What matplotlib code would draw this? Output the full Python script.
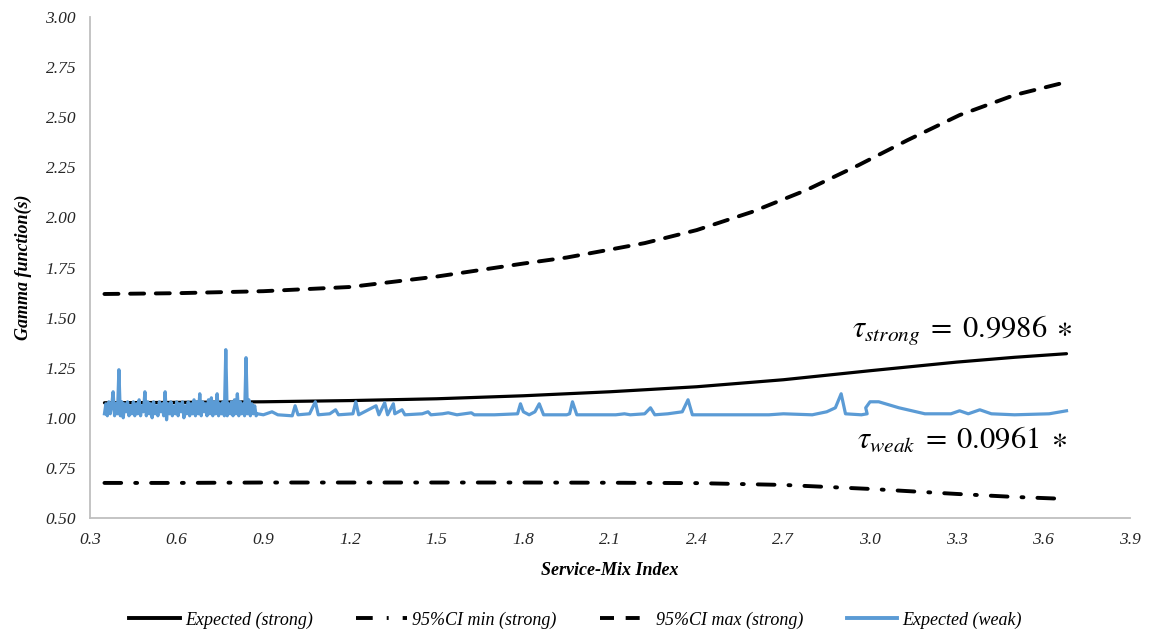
import matplotlib

matplotlib.use("Agg")

import matplotlib.pyplot as plt  # noqa: E402
from matplotlib.lines import Line2D  # noqa: E402

plt.rcParams["font.family"] = ["Liberation Serif", "DejaVu Serif"]
plt.rcParams["mathtext.fontset"] = "stix"

# Expected gamma and 95% CI band for the strong specification
strong_x = [0.35, 0.6, 0.9, 1.2, 1.5, 1.8, 2.1, 2.4, 2.7, 3.0, 3.3, 3.5, 3.68]
strong_exp = [1.075, 1.077, 1.080, 1.086, 1.095, 1.110, 1.130, 1.155, 1.190, 1.235, 1.278, 1.302, 1.320]
strong_ci_min = [0.675, 0.675, 0.677, 0.677, 0.677, 0.677, 0.676, 0.674, 0.665, 0.645, 0.620, 0.605, 0.595]

ci_max_x = [0.35, 0.6, 0.9, 1.2, 1.5, 1.8, 1.95, 2.09, 2.22, 2.40, 2.59, 2.78, 2.96, 3.13, 3.31, 3.50, 3.68]
strong_ci_max = [1.618, 1.622, 1.632, 1.653, 1.705, 1.770, 1.800, 1.837, 1.872, 1.937, 2.027, 2.137,
                 2.261, 2.386, 2.511, 2.611, 2.676]

# Expected gamma for the weak specification
weak_x = [
    0.350, 0.355, 0.360, 0.365, 0.370, 0.375, 0.380, 0.385, 0.390, 0.395,
    0.400, 0.405, 0.410, 0.415, 0.420, 0.425, 0.430, 0.435, 0.440, 0.445,
    0.450, 0.455, 0.460, 0.465, 0.470, 0.475, 0.480, 0.485, 0.490, 0.495,
    0.500, 0.505, 0.510, 0.515, 0.520, 0.525, 0.530, 0.535, 0.540, 0.545,
    0.550, 0.555, 0.560, 0.565, 0.570, 0.575, 0.580, 0.585, 0.590, 0.595,
    0.600, 0.605, 0.610, 0.615, 0.620, 0.625, 0.630, 0.635, 0.640, 0.645,
    0.650, 0.655, 0.660, 0.665, 0.670, 0.675, 0.680, 0.685, 0.690, 0.695,
    0.700, 0.705, 0.710, 0.715, 0.720, 0.725, 0.730, 0.735, 0.740, 0.745,
    0.750, 0.755, 0.760, 0.765, 0.770, 0.775, 0.780, 0.785, 0.790, 0.795,
    0.800, 0.805, 0.810, 0.815, 0.820, 0.825, 0.830, 0.835, 0.840, 0.845,
    0.850, 0.855, 0.860, 0.865, 0.870, 0.875, 0.880,
    0.90, 0.93, 0.95, 1.00, 1.01, 1.02, 1.06, 1.08, 1.09, 1.13,
    1.15, 1.16, 1.21, 1.22, 1.23, 1.29, 1.30, 1.32, 1.33, 1.35, 1.355, 1.38,
    1.39, 1.45, 1.47, 1.48, 1.52, 1.54, 1.57, 1.62, 1.63, 1.70, 1.78, 1.79,
    1.80, 1.82, 1.84, 1.855, 1.87, 1.95, 1.96, 1.97, 1.985, 2.05, 2.12, 2.15,
    2.17, 2.22, 2.24, 2.255, 2.30, 2.35, 2.37, 2.385, 2.50, 2.65, 2.70, 2.80,
    2.85, 2.88, 2.90, 2.915, 2.97, 2.99, 2.985, 3.00, 3.03, 3.10, 3.19, 3.28, 3.31,
    3.34, 3.38, 3.42, 3.50, 3.62, 3.68,
]
weak_exp = [
    1.02, 1.07, 1.01, 1.08, 1.02, 1.06, 1.13, 1.01, 1.07, 1.02,
    1.24, 1.01, 1.08, 1.00, 1.07, 1.03, 1.08, 1.01, 1.06, 1.02,
    1.08, 1.01, 1.07, 1.02, 1.09, 1.01, 1.06, 1.03, 1.13, 1.01,
    1.08, 1.02, 1.07, 1.00, 1.08, 1.02, 1.06, 1.01, 1.08, 1.03,
    1.07, 1.01, 1.13, 0.99, 1.07, 1.02, 1.08, 1.01, 1.06, 1.02,
    1.08, 1.01, 1.07, 1.03, 1.08, 1.00, 1.06, 1.02, 1.08, 1.01,
    1.07, 1.02, 1.09, 1.01, 1.08, 1.02, 1.12, 1.01, 1.08, 1.03,
    1.07, 1.01, 1.09, 1.02, 1.10, 1.01, 1.08, 1.02, 1.12, 1.01,
    1.07, 1.02, 1.08, 1.01, 1.34, 1.01, 1.07, 1.02, 1.08, 1.01,
    1.09, 1.02, 1.12, 1.01, 1.08, 1.02, 1.07, 1.01, 1.30, 1.02,
    1.09, 1.01, 1.07, 1.02, 1.06, 1.01, 1.02,
    1.015, 1.03, 1.015, 1.01, 1.06, 1.015, 1.02, 1.08, 1.015, 1.02,
    1.04, 1.015, 1.02, 1.08, 1.015, 1.06, 1.015, 1.075, 1.015, 1.07, 1.02, 1.04,
    1.015, 1.02, 1.03, 1.015, 1.02, 1.025, 1.015, 1.025, 1.015, 1.015, 1.02, 1.07,
    1.03, 1.015, 1.03, 1.07, 1.015, 1.015, 1.02, 1.08, 1.015, 1.015, 1.015, 1.02,
    1.015, 1.02, 1.05, 1.015, 1.02, 1.03, 1.09, 1.015, 1.015, 1.015, 1.02, 1.015,
    1.03, 1.05, 1.12, 1.02, 1.015, 1.02, 1.05, 1.08, 1.08, 1.05, 1.02, 1.02, 1.035,
    1.02, 1.04, 1.02, 1.015, 1.02, 1.035,
]

x_ticks = [0.3, 0.6, 0.9, 1.2, 1.5, 1.8, 2.1, 2.4, 2.7, 3.0, 3.3, 3.6, 3.9]
y_ticks = [0.50, 0.75, 1.00, 1.25, 1.50, 1.75, 2.00, 2.25, 2.50, 2.75, 3.00]

tau_strong = 0.9986
tau_weak = 0.0961

BLUE = "#5B9BD5"
DASH = (3.6, 3.0)
DASH_DOT = (4.3, 3.6, 0.5, 3.6)

fig = plt.figure(figsize=(11.51, 6.34), dpi=100)
ax = fig.add_axes([0.0782, 0.183, 0.9036, 0.790])

ax.plot(strong_x, strong_exp, color="black", lw=2.3, solid_capstyle="round",
        label="Expected (strong)")
ax.plot(strong_x, strong_ci_min, color="black", lw=2.8, dashes=DASH_DOT,
        dash_capstyle="round", label="95%CI min (strong)")
ax.plot(ci_max_x, strong_ci_max, color="black", lw=2.8, dashes=DASH,
        dash_capstyle="round", label="95%CI max (strong)")
ax.plot(weak_x, weak_exp, color=BLUE, lw=2.3, solid_joinstyle="round",
        label="Expected (weak)")

ax.set_xlim(0.3, 3.9)
ax.set_ylim(0.5, 3.0)
ax.set_xticks(x_ticks)
ax.set_xticklabels([f"{v:.1f}" for v in x_ticks])
ax.set_yticks(y_ticks)
ax.set_yticklabels([f"{v:.2f}" for v in y_ticks])
ax.tick_params(length=0, labelsize=12.5, labelcolor="#262626", pad=10)
for lab in ax.get_xticklabels() + ax.get_yticklabels():
    lab.set_fontstyle("italic")

for side in ("top", "right"):
    ax.spines[side].set_visible(False)
for side in ("left", "bottom"):
    ax.spines[side].set_color("#BFBFBF")
    ax.spines[side].set_linewidth(1.3)

ax.set_xlabel("Service-Mix Index", fontsize=13, fontstyle="italic",
              fontweight="bold", labelpad=10)
ax.set_ylabel("Gamma function(s)", fontsize=13, fontstyle="italic",
              fontweight="bold", labelpad=10)

ax.text(3.70, 1.398, rf"$\tau_{{strong}}\;=\;{tau_strong}\;\ast$", fontsize=22,
        ha="right", va="baseline")
ax.text(3.683, 0.849, rf"$\tau_{{weak}}\;=\;{tau_weak}\;\ast$", fontsize=22,
        ha="right", va="baseline")

handles = [
    Line2D([], [], color="black", lw=2.8),
    Line2D([], [], color="black", lw=2.8, dashes=DASH_DOT),
    Line2D([], [], color="black", lw=2.8, dashes=DASH),
    Line2D([], [], color=BLUE, lw=2.8),
]
labels = ["Expected (strong)", "95%CI min (strong)", "95%CI max (strong)", "Expected (weak)"]
fig.legend(handles, labels, loc="center", bbox_to_anchor=(0.5, 0.022), ncol=4,
           frameon=False, handlelength=2.8, handletextpad=0.3, columnspacing=2.4,
           prop={"style": "italic", "size": 13})

fig.savefig("out.png", dpi=100)
